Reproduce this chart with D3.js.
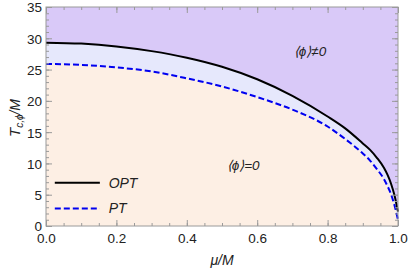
<!DOCTYPE html>
<html>
<head>
<meta charset="utf-8">
<script src="https://cdn.jsdelivr.net/npm/d3@7"></script>
<style>
  body { margin: 0; background: #fff; }
  text { font-family: "Liberation Sans", Arial, sans-serif; }
</style>
</head>
<body>
<div id="chart"></div>
<script>
// values
const mu  = [0, 0.1, 0.2, 0.3, 0.4, 0.5, 0.6, 0.7, 0.8, 0.85, 0.9, 0.92, 0.94, 0.96, 0.97, 0.98, 0.99, 1.0];
const opt = [29.3, 29.15, 28.7, 27.95, 26.9, 25.45, 23.45, 20.8, 17.5, 15.6, 13.2, 12.2, 10.9, 9.3, 8.2, 6.8, 4.9, 2.3];
const pt  = [25.9, 25.75, 25.35, 24.7, 23.6, 22.3, 20.6, 18.6, 15.9, 13.9, 11.6, 10.5, 9.1, 7.5, 6.4, 5.1, 3.3, 1.0];
const xTicks = [0, 0.2, 0.4, 0.6, 0.8, 1.0];
const yTicks = [0, 5, 10, 15, 20, 25, 30, 35];

const W = 409, H = 270;
const margin = { top: 7, right: 11, bottom: 44, left: 46 },
    width = W - margin.left - margin.right,
    height = H - margin.top - margin.bottom;

const svg = d3.select("#chart")
    .append("svg")
    .attr("width", W)
    .attr("height", H);

const g = svg.append("g")
    .attr("transform", `translate(${margin.left},${margin.top})`);

const x = d3.scaleLinear().domain([0, 1]).range([0, width]);
const y = d3.scaleLinear().domain([0, 35]).range([height, 0]);

const data = mu.map((m, i) => ({ mu: m, opt: opt[i], pt: pt[i] }));

// background (broken phase)
g.append("rect")
    .attr("width", width)
    .attr("height", height)
    .attr("fill", "#d9c9f8");

const curve = d3.curveMonotoneX;

g.append("path")
    .datum(data)
    .attr("fill", "#e6e8fc")
    .attr("d", d3.area().curve(curve).x(d => x(d.mu)).y0(y(0)).y1(d => y(d.opt)));

g.append("path")
    .datum(data)
    .attr("fill", "#fdefe4")
    .attr("d", d3.area().curve(curve).x(d => x(d.mu)).y0(y(0)).y1(d => y(d.pt)));

g.append("path")
    .datum(data)
    .attr("fill", "none")
    .attr("stroke", "#0000f0")
    .attr("stroke-width", 2)
    .attr("stroke-dasharray", "6,3")
    .attr("d", d3.line().curve(curve).x(d => x(d.mu)).y(d => y(d.pt)));

g.append("path")
    .datum(data)
    .attr("fill", "none")
    .attr("stroke", "#000")
    .attr("stroke-width", 2)
    .attr("d", d3.line().curve(curve).x(d => x(d.mu)).y(d => y(d.opt)));

// axes, ticks pointing inward
const tickCol = "#9a9a9a";
function styleAxis(sel) {
    sel.select(".domain").remove();
    sel.selectAll("line").attr("stroke", tickCol);
    sel.selectAll("text")
        .attr("fill", "#222")
        .style("font-size", "13.5px")
        .style("font-family", "'Liberation Sans', Arial, sans-serif");
}

const xMinor = d3.range(0, 1.0001, 0.05);
const yMinor = d3.range(0, 35.001, 1);

g.append("g").attr("transform", `translate(0,${height})`)
    .call(d3.axisBottom(x).tickValues(xMinor).tickSize(-3).tickFormat(""))
    .call(styleAxis);
g.append("g").attr("transform", `translate(0,${height})`)
    .call(d3.axisBottom(x).tickValues(xTicks).tickSize(-6).tickPadding(7).tickFormat(d3.format(".1f")))
    .call(styleAxis);
g.append("g")
    .call(d3.axisTop(x).tickValues(xMinor).tickSize(-3).tickFormat(""))
    .call(styleAxis);
g.append("g")
    .call(d3.axisTop(x).tickValues(xTicks).tickSize(-6).tickFormat(""))
    .call(styleAxis);

g.append("g")
    .call(d3.axisLeft(y).tickValues(yMinor).tickSize(-3).tickFormat(""))
    .call(styleAxis);
g.append("g")
    .call(d3.axisLeft(y).tickValues(yTicks).tickSize(-6).tickPadding(4))
    .call(styleAxis)
    .selectAll("text").attr("dy", "0.36em");
g.append("g").attr("transform", `translate(${width},0)`)
    .call(d3.axisRight(y).tickValues(yMinor).tickSize(-3).tickFormat(""))
    .call(styleAxis);
g.append("g").attr("transform", `translate(${width},0)`)
    .call(d3.axisRight(y).tickValues(yTicks).tickSize(-6).tickFormat(""))
    .call(styleAxis);

// frame
g.append("rect")
    .attr("width", width)
    .attr("height", height)
    .attr("fill", "none")
    .attr("stroke", tickCol)
    .attr("stroke-width", 1);

// region labels
g.append("text")
    .attr("x", x(0.75))
    .attr("y", y(27.2))
    .attr("text-anchor", "middle")
    .style("font-size", "13.5px")
    .style("font-style", "italic")
    .attr("fill", "#222")
    .text("⟨ϕ⟩≠0");

g.append("text")
    .attr("x", x(0.56))
    .attr("y", y(9.0))
    .attr("text-anchor", "middle")
    .style("font-size", "13.5px")
    .style("font-style", "italic")
    .attr("fill", "#222")
    .text("⟨ϕ⟩=0");

// legend
const legend = [
    { name: "OPT", color: "#000", dash: null, t: 6.9 },
    { name: "PT", color: "#0000f0", dash: "6,3", t: 2.8 }
];
const lg = g.selectAll(".leg").data(legend).join("g");
lg.append("line")
    .attr("x1", x(0.025)).attr("x2", x(0.153))
    .attr("y1", d => y(d.t)).attr("y2", d => y(d.t))
    .attr("stroke", d => d.color)
    .attr("stroke-width", 2)
    .attr("stroke-dasharray", d => d.dash);
lg.append("text")
    .attr("x", x(0.178))
    .attr("y", d => y(d.t) + 5)
    .style("font-size", "14px")
    .style("font-style", "italic")
    .attr("fill", "#222")
    .text(d => d.name);

// axis titles
svg.append("text")
    .attr("x", margin.left + width / 2)
    .attr("y", 265)
    .attr("text-anchor", "middle")
    .style("font-size", "14px")
    .style("font-style", "italic")
    .attr("fill", "#222")
    .text("μ/M");

const yl = svg.append("text")
    .attr("transform", "translate(20,118) rotate(-90)")
    .attr("text-anchor", "middle")
    .style("font-size", "14px")
    .style("font-style", "italic")
    .attr("fill", "#222");
yl.append("tspan").style("font-size", "15px").text("T");
yl.append("tspan").attr("dy", 3).style("font-size", "10px").text("c,ϕ");
yl.append("tspan").attr("dy", -3).text("/M");
</script>
</body>
</html>
